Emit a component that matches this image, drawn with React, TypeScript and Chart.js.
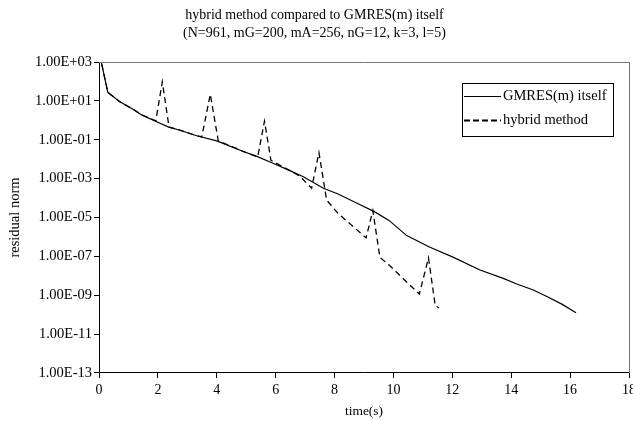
import React, { useEffect, useRef } from "react";
import { Chart, registerables } from "chart.js";

Chart.register(...registerables);

const titleLines = [
  "hybrid method compared to GMRES(m) itself",
  "(N=961, mG=200, mA=256, nG=12, k=3, l=5)",
];
const xTitle = "time(s)";
const yTitle = "residual norm";
const yTickValues = [1e3, 1e1, 1e-1, 1e-3, 1e-5, 1e-7, 1e-9, 1e-11, 1e-13];

const gmresLabel = "GMRES(m) itself";
const gmresTime = [
  0.02, 0.3, 0.71, 1.17, 1.45, 1.9, 2.35, 2.75, 3.32, 4.0, 4.9, 5.36, 5.87, 6.5,
  6.94, 7.62, 8.1, 8.8, 9.35, 9.85, 10.45, 11.24, 12.04, 12.94, 13.73, 14.19,
  14.75, 15.21, 15.72, 16.2,
];
const gmresResidual = [
  2.5e3, 2.75e1, 8.9e0, 3.6e0, 1.9e0, 9.3e-1, 4.6e-1, 3.1e-1, 1.6e-1, 8.7e-2,
  2.5e-2, 1.4e-2, 6.6e-3, 2.5e-3, 1.26e-3, 3.2e-4, 1.66e-4, 5.1e-5, 2.0e-5,
  7.1e-6, 1.17e-6, 2.95e-7, 8.9e-8, 2.0e-8, 7.4e-9, 3.8e-9, 1.86e-9, 8.7e-10,
  3.5e-10, 1.26e-10,
];

const hybridLabel = "hybrid method";
const hybridTime = [
  0.02, 0.3, 0.71, 1.17, 1.45, 1.93, 2.15, 2.38, 2.75, 3.32, 3.49, 3.78, 4.05,
  4.9, 5.39, 5.62, 5.84, 6.5, 6.83, 7.22, 7.47, 7.73, 8.13, 8.53, 9.07, 9.3,
  9.54, 9.88, 10.34, 10.88, 11.19, 11.42, 11.55,
];
const hybridResidual = [
  2.5e3, 2.75e1, 8.9e0, 3.6e0, 1.9e0, 9.5e-1, 9.5e1, 4.4e-1, 3.1e-1, 1.6e-1,
  1.4e-1, 2.2e1, 8.9e-2, 2.5e-2, 1.3e-2, 9.1e-1, 8.7e-3, 2.5e-3, 1.3e-3, 3.2e-4,
  2.2e-2, 7.9e-5, 1.55e-5, 4.7e-6, 8.9e-7, 2.3e-5, 8.9e-8, 3.3e-8, 6.9e-9,
  1.15e-9, 8.3e-8, 2.9e-10, 2.2e-10,
];

const FONT = "'Liberation Serif', 'Times New Roman', serif";

const fmtSci = (v: number) => {
  const e = Math.round(Math.log10(v));
  return "1.00E" + (e < 0 ? "-" : "+") + String(Math.abs(e)).padStart(2, "0");
};

const legendPlugin = {
  id: "boxLegend",
  afterDraw(chart: any) {
    const ctx = chart.ctx;
    const x0 = 462, y0 = 83, w = 151, h = 53;
    ctx.save();
    ctx.fillStyle = "#fff";
    ctx.fillRect(x0, y0, w, h);
    ctx.strokeStyle = "#000";
    ctx.lineWidth = 1;
    ctx.setLineDash([]);
    ctx.strokeRect(x0 + 0.5, y0 + 0.5, w, h);
    const rows = [96, 120];
    chart.data.datasets.forEach((ds: any, i: number) => {
      const y = rows[i];
      const dashed = ds.borderDash && ds.borderDash.length;
      ctx.beginPath();
      ctx.strokeStyle = "#000";
      ctx.lineWidth = dashed ? 2 : 1;
      ctx.setLineDash(dashed ? [6, 3] : []);
      ctx.moveTo(x0 + 2, y + 0.5);
      ctx.lineTo(x0 + 39, y + 0.5);
      ctx.stroke();
      ctx.setLineDash([]);
      ctx.fillStyle = "#000";
      ctx.font = "14.5px " + FONT;
      ctx.textBaseline = "middle";
      ctx.textAlign = "left";
      ctx.fillText(ds.label, x0 + 41, y);
    });
    ctx.restore();
  },
};

const framePlugin = {
  id: "frame",
  afterDatasetsDraw(chart: any) {
    const { ctx, chartArea: a } = chart;
    ctx.save();
    ctx.strokeStyle = "#777";
    ctx.lineWidth = 1;
    ctx.beginPath();
    ctx.moveTo(a.left, Math.round(a.top) + 0.5);
    ctx.lineTo(Math.round(a.right) + 0.5, Math.round(a.top) + 0.5);
    ctx.lineTo(Math.round(a.right) + 0.5, a.bottom);
    ctx.stroke();
    ctx.restore();
  },
};

export default function App() {
  const ref = useRef<HTMLCanvasElement | null>(null);
  useEffect(() => {
    document.body.style.margin = "0";
    const canvas = ref.current!;
    const chart = new Chart(canvas, {
      type: "line",
      data: {
        datasets: [
          {
            label: gmresLabel,
            data: gmresTime.map((t, i) => ({ x: t, y: gmresResidual[i] })),
            borderColor: "#000",
            borderWidth: 1.2,
            pointRadius: 0,
            tension: 0,
            fill: false,
          },
          {
            label: hybridLabel,
            data: hybridTime.map((t, i) => ({ x: t, y: hybridResidual[i] })),
            borderColor: "#000",
            borderWidth: 1.3,
            borderDash: [6, 4],
            pointRadius: 0,
            tension: 0,
            fill: false,
          },
        ],
      },
      options: {
        responsive: false,
        animation: false,
        devicePixelRatio: 1,
        layout: { padding: { left: 0, right: 21, top: 0, bottom: 0 } },
        plugins: {
          legend: { display: false },
          tooltip: { enabled: false },
          title: {
            display: true,
            text: titleLines,
            color: "#000",
            font: { family: FONT, size: 14, weight: "normal", lineHeight: 1.286 },
            padding: { top: 6, bottom: 20 },
          },
        },
        scales: {
          x: {
            type: "linear",
            min: 0,
            max: 18,
            ticks: { stepSize: 2, color: "#000", font: { family: FONT, size: 14 }, padding: 4 },
            grid: { drawOnChartArea: false, drawTicks: true, tickLength: 5, color: "#000" },
            border: { color: "#000", width: 1 },
            title: { display: true, text: xTitle, color: "#000", font: { family: FONT, size: 13.5 }, padding: { top: 9, bottom: 1 } },
            afterFit: (s: any) => { s.height = 421 - 373; },
          },
          y: {
            type: "logarithmic",
            min: 1e-13,
            max: 1e3,
            afterBuildTicks: (s: any) => { s.ticks = yTickValues.map((v) => ({ value: v })); },
            ticks: { color: "#000", font: { family: FONT, size: 14.5 }, padding: 2, callback: (v: any) => fmtSci(Number(v)) },
            grid: { drawOnChartArea: false, drawTicks: true, tickLength: 5, color: "#000" },
            border: { color: "#000", width: 1 },
            title: { display: true, text: yTitle, color: "#000", font: { family: FONT, size: 14.5 }, padding: { top: 6, bottom: 4 } },
            afterFit: (s: any) => { s.width = 99; },
          },
        },
      },
      plugins: [framePlugin, legendPlugin],
    });
    return () => chart.destroy();
  }, []);
  return (
    <div style={{ width: 633, height: 421, overflow: "hidden" }}>
      <canvas ref={ref} width={650} height={421} style={{ width: 650, height: 421, display: "block" }} />
    </div>
  );
}
